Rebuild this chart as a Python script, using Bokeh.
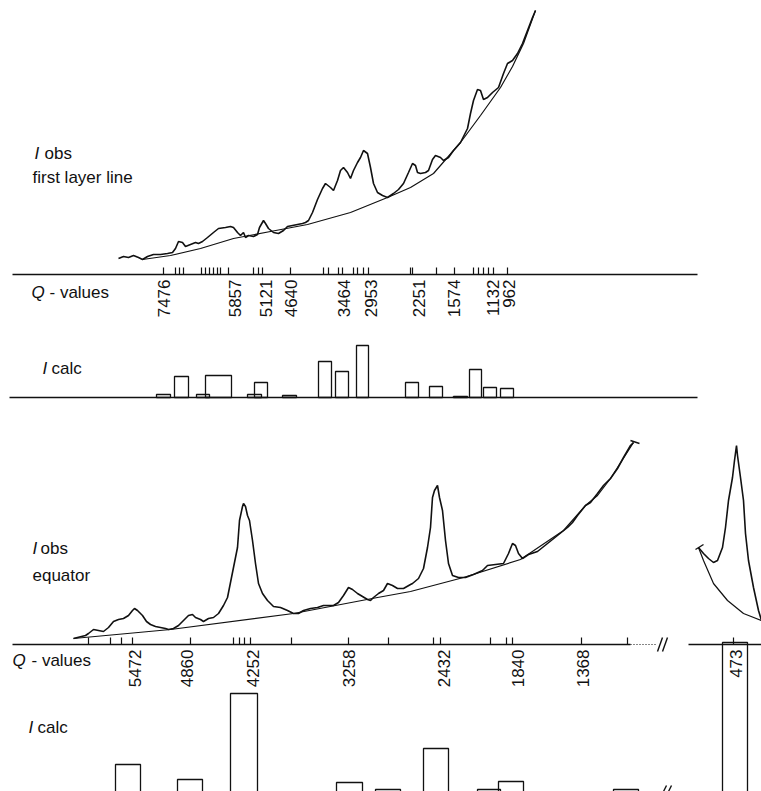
import numpy as np
from bokeh.plotting import figure
from bokeh.models import Range1d
from bokeh.embed import file_html
from bokeh.resources import INLINE
from bokeh.core.properties import value

W, H = 761, 791
FONT = value("Liberation Sans")

# ---------------- data ----------------
# First layer line: observed intensity profile (position along Q axis, intensity)
obs1_x = [118, 123, 128, 133, 138, 142, 147, 153, 160, 167, 172, 175, 178, 182, 185, 190, 195, 198,
          202, 207, 213, 218, 225, 230, 233, 237, 240, 243, 245, 248, 253, 257, 259, 263, 265, 268,
          273, 278, 283, 287, 292, 297, 302, 305, 308, 312, 317, 322, 325, 330, 333, 337, 340, 343,
          347, 350, 353, 357, 360, 363, 367, 370, 373, 377, 382, 387, 390, 393, 398, 403, 408, 412,
          415, 417, 420, 425, 428, 432, 435, 440, 443, 448, 453, 460, 467, 470, 473, 477, 480, 483,
          487, 492, 498, 503, 507, 512, 517, 522, 527, 532, 535]
obs1_y = [16, 18, 17, 19, 17, 15, 18, 20, 20, 21, 22, 26, 33, 32, 28, 30, 32, 31,
          33, 37, 42, 46, 47, 48, 47, 42, 39, 42, 37, 39, 38, 40, 47, 54, 51, 46,
          42, 41, 44, 48, 49, 50, 51, 52, 54, 62, 75, 86, 91, 87, 84, 94, 104, 107,
          102, 96, 104, 112, 117, 124, 121, 107, 91, 82, 79, 77, 79, 81, 85, 91, 102, 111,
          109, 102, 101, 102, 104, 115, 119, 117, 114, 117, 124, 132, 146, 161, 174, 185, 184, 175,
          177, 182, 187, 201, 211, 214, 221, 231, 244, 257, 264]
bg1_x = [142, 170, 200, 233, 270, 307, 350, 387, 410, 433, 460, 480, 500, 512, 523, 535]
bg1_y = [15, 19, 26, 36, 43, 50, 62, 77, 87, 101, 132, 159, 187, 208, 231, 264]

# First layer line: reflection positions and labelled Q-values
q1_ticks = [163, 175, 179, 183, 201, 205, 209, 213, 217, 220, 228, 253, 258, 262, 290, 323, 328,
            338, 342, 353, 357, 363, 368, 410, 412, 436, 454, 473, 478, 483, 488, 493, 507]
q1_labels = ["7476", "5857", "5121", "4640", "3464", "2953", "2251", "1574", "1132", "962"]
q1_label_x = [163, 234, 265, 290, 343, 370, 418, 453, 492, 508]

# First layer line: calculated intensities (bar extents along axis, height)
c1_lo = [156, 174, 196, 205, 247, 254, 282, 318, 335, 356, 405, 429, 453, 469, 483, 500]
c1_hi = [170, 188, 209, 231, 261, 267, 296, 331, 348, 368, 418, 442, 467, 481, 496, 513]
c1_h = [3, 21, 3, 22, 3, 15, 2, 36, 26, 52, 15, 11, 1, 28, 10, 9]

# Equator: observed profile
obs2_x = [73, 77, 85, 88, 93, 98, 103, 108, 113, 118, 123, 128, 132, 134, 137, 142, 146, 150,
          155, 160, 165, 168, 173, 178, 183, 188, 192, 195, 200, 203, 208, 213, 218, 223, 227,
          230, 233, 237, 239, 242, 243, 245, 247, 249, 252, 255, 258, 262, 267, 273, 280, 287,
          293, 298, 303, 310, 317, 323, 328, 333, 338, 343, 348, 352, 357, 362, 367, 370, 373,
          378, 383, 387, 392, 397, 403, 410, 412, 418, 423, 427, 430, 432, 434, 437, 439, 442,
          445, 448, 452, 458, 465, 473, 482, 487, 495, 503, 508, 512, 515, 518, 522, 528, 537,
          547, 557, 567, 572, 577, 585, 590, 597, 603, 610, 617, 623, 630, 633]
obs2_y = [6, 7, 9, 11, 15, 14, 13, 17, 23, 25, 26, 29, 34, 36, 34, 29, 23, 20,
          18, 17, 16, 15, 16, 19, 24, 29, 30, 27, 25, 23, 26, 27, 31, 39, 47,
          62, 77, 97, 124, 138, 141, 138, 129, 124, 104, 81, 61, 51, 44, 38, 37, 34,
          31, 31, 34, 36, 37, 39, 39, 39, 42, 49, 57, 55, 51, 48, 45, 44, 47,
          51, 54, 61, 59, 56, 56, 60, 61, 66, 76, 97, 117, 147, 154, 159, 147, 134,
          104, 81, 69, 67, 67, 70, 74, 79, 80, 81, 91, 101, 99, 91, 86, 90, 93,
          101, 109, 117, 122, 129, 139, 142, 151, 159, 166, 176, 187, 199, 202]
bg2_x = [73, 170, 293, 377, 410, 463, 520, 563, 585, 597, 610, 633]
bg2_y = [6, 15, 31, 47, 53, 67, 85, 114, 139, 149, 166, 202]

# Equator: low-angle reflection (beyond the axis break)
obs3_x = [698, 703, 708, 713, 717, 722, 725, 728, 732, 734, 736, 737, 740, 743, 745, 748, 753, 758, 761]
obs3_y = [97, 91, 86, 82, 84, 97, 117, 144, 167, 184, 199, 189, 167, 144, 111, 84, 57, 34, 24]
bg3_x = [698, 703, 713, 727, 743, 761]
bg3_y = [97, 84, 61, 44, 31, 24]

# Equator: reflection positions and labelled Q-values
q2_ticks = [88, 110, 121, 132, 190, 233, 239, 244, 250, 291, 348, 388, 433, 440, 490, 506, 512, 581, 627, 733]
q2_labels = ["5472", "4860", "4252", "3258", "2432", "1840", "1368", "473"]
q2_label_x = [134, 186, 252, 348, 443, 517, 582, 735]

# Equator: calculated intensities
c2_lo = [115, 177, 230, 336, 375, 423, 477, 498, 613, 722]
c2_hi = [140, 202, 257, 362, 400, 448, 500, 523, 638, 747]
c2_h = [36, 21, 107, 18, 11, 52, 11, 19, 11, 158]

# ---------------- layout (pixel rows of the panels) ----------------
def Y(py):
    return H - py

AX1 = Y(274)      # first layer line Q axis
CB1 = Y(397)      # first layer line I calc baseline
AX2 = Y(644)      # equator Q axis
CB2 = Y(800)      # equator I calc baseline (below the page edge)
TICK = 7
LW = 1.5

p = figure(width=W, height=H, x_range=Range1d(0, W), y_range=Range1d(0, H),
           output_backend="svg", toolbar_location=None, min_border=0)
p.axis.visible = False
p.xgrid.visible = False
p.ygrid.visible = False
p.outline_line_color = None
p.background_fill_color = "white"

ink = "#111111"

# ---- first layer line ----
p.line(obs1_x, [AX1 + v for v in obs1_y], line_color=ink, line_width=1.6)
p.line(bg1_x, [AX1 + v for v in bg1_y], line_color=ink, line_width=1.2)
p.segment(x0=[12], y0=[AX1], x1=[697], y1=[AX1], line_color=ink, line_width=LW)
p.segment(x0=q1_ticks, y0=[AX1] * len(q1_ticks), x1=q1_ticks, y1=[AX1 + TICK] * len(q1_ticks),
          line_color=ink, line_width=1.2)
p.text(x=q1_label_x, y=[Y(279)] * len(q1_labels), text=q1_labels, angle=np.pi / 2,
       text_align="right", text_baseline="middle", text_font=FONT, text_font_size="17px",
       text_color=ink)
p.segment(x0=[9], y0=[CB1], x1=[697], y1=[CB1], line_color=ink, line_width=LW)
p.quad(left=c1_lo, right=c1_hi, bottom=[CB1] * len(c1_h), top=[CB1 + h for h in c1_h],
       fill_color=None, line_color=ink, line_width=1.3)

# ---- equator ----
p.line(obs2_x, [AX2 + v for v in obs2_y], line_color=ink, line_width=1.6)
p.line(bg2_x, [AX2 + v for v in bg2_y], line_color=ink, line_width=1.2)
p.segment(x0=[obs2_x[-1] - 3], y0=[AX2 + obs2_y[-1] + 2], x1=[obs2_x[-1] + 6], y1=[AX2 + obs2_y[-1] - 1],
          line_color=ink, line_width=1.4)
p.line(obs3_x, [AX2 + v for v in obs3_y], line_color=ink, line_width=1.6)
p.line(bg3_x, [AX2 + v for v in bg3_y], line_color=ink, line_width=1.2)
p.segment(x0=[obs3_x[0] - 3], y0=[AX2 + obs3_y[0] - 2], x1=[obs3_x[0] + 5], y1=[AX2 + obs3_y[0] + 3],
          line_color=ink, line_width=1.4)

p.segment(x0=[12, 688], y0=[AX2, AX2], x1=[630, W], y1=[AX2, AX2], line_color=ink, line_width=LW)
p.segment(x0=[630], y0=[AX2], x1=[657], y1=[AX2], line_color=ink, line_width=1.2, line_dash="1 2")
p.segment(x0=[657, 662, 663, 668], y0=[AX2 - 7, AX2 - 7, Y(791), Y(791)],
          x1=[662, 667, 666, 671], y1=[AX2 + 7, AX2 + 7, Y(785), Y(785)],
          line_color=ink, line_width=1.4)
p.segment(x0=q2_ticks, y0=[AX2] * len(q2_ticks), x1=q2_ticks, y1=[AX2 + TICK] * len(q2_ticks),
          line_color=ink, line_width=1.2)
p.text(x=q2_label_x, y=[Y(649)] * len(q2_labels), text=q2_labels, angle=np.pi / 2,
       text_align="right", text_baseline="middle", text_font=FONT, text_font_size="17px",
       text_color=ink)
p.quad(left=c2_lo, right=c2_hi, bottom=[CB2] * len(c2_h), top=[CB2 + h for h in c2_h],
       fill_color=None, line_color=ink, line_width=1.3)

# ---- panel captions ----
ital = dict(text_font=FONT, text_font_size="17px", text_font_style="italic",
            text_baseline="alphabetic", text_color=ink)
norm = dict(text_font=FONT, text_font_size="17px", text_baseline="alphabetic", text_color=ink)
p.text(x=[34, 31, 42, 32, 12, 28], y=[Y(153), Y(292), Y(368), Y(548), Y(660), Y(727)],
       text=["I", "Q", "I", "I", "Q", "I"], **ital)
p.text(x=[44, 32, 49, 51, 40, 32, 31, 37],
       y=[Y(153), Y(177), Y(292), Y(368), Y(548), Y(575), Y(660), Y(727)],
       text=["obs", "first layer line", "- values", "calc", "obs", "equator", "- values", "calc"],
       **norm)

open("out.html", "w").write(file_html(p, INLINE))
